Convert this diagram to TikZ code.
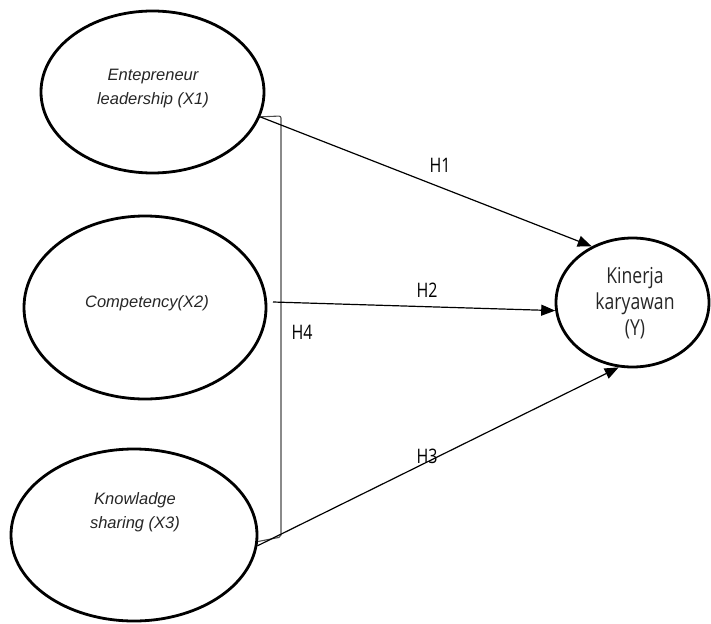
\documentclass[tikz,border=0pt]{standalone}
\usepackage{fontspec}
\setmainfont{Liberation Sans}
\newfontfamily\yfont[FakeStretch=0.8]{Open Sans}
\usetikzlibrary{shapes.geometric,arrows.meta}
\begin{document}
\begin{tikzpicture}[x=1pt,y=-1pt,
  latent/.style={draw, ellipse, line width=2.8pt, inner sep=0pt},
  lbl/.style={font=\fontsize{16.5}{24}\selectfont\itshape, align=center, text=black!85},
  ylbl/.style={font=\yfont\fontsize{22}{26}\selectfont, align=center, text=black!85},
  hpath/.style={line width=1.2pt, -{Triangle[length=14pt,width=11pt]}},
  hlab/.style={font=\yfont\fontsize{20}{22}\selectfont, text=black},
  brk/.style={line width=1.1pt, draw=black!70, rounded corners=2pt}]
\useasboundingbox (0,0) rectangle (711,623);
% latent variables
\node[latent, minimum width=223pt, minimum height=162pt] (x1) at (152.5,92) {};
\node[latent, minimum width=242pt, minimum height=183pt] (x2) at (145,307.5) {};
\node[latent, minimum width=246pt, minimum height=172pt] (x3) at (134,535) {};
\node[latent, minimum width=153pt, minimum height=129pt] (y) at (632.5,302.5) {};
% labels
\node[lbl] (t1) at (153,89) {Entepreneur\\leadership (X1)};
\node[lbl] (t2) at (147,303) {Competency(X2)};
\node[lbl] (t3) at (135,512) {Knowladge\\sharing (X3)};
\node[ylbl] (ty) at (635,303) {Kinerja\\karyawan\\(Y)};
% bracket (H4)
\coordinate (bt) at (281,116);
\coordinate (bb) at (281,537);
\draw[brk] (x1.-13) -- (bt) -- (bb) -- (x3.-3);
% paths
\coordinate (h2s) at (273,302);
\draw[hpath] (x1.-13) -- (y.126);
\draw[hpath] (h2s) -- (y.186);
\draw[hpath] (x3.-5) -- (y.258);
% hypothesis labels
\node[hlab] (h1) at (440,165) {H1};
\node[hlab] (h2) at (427,290) {H2};
\node[hlab] (h3) at (427,456) {H3};
\node[hlab] (h4) at (302,332) {H4};
\end{tikzpicture}
\end{document}
